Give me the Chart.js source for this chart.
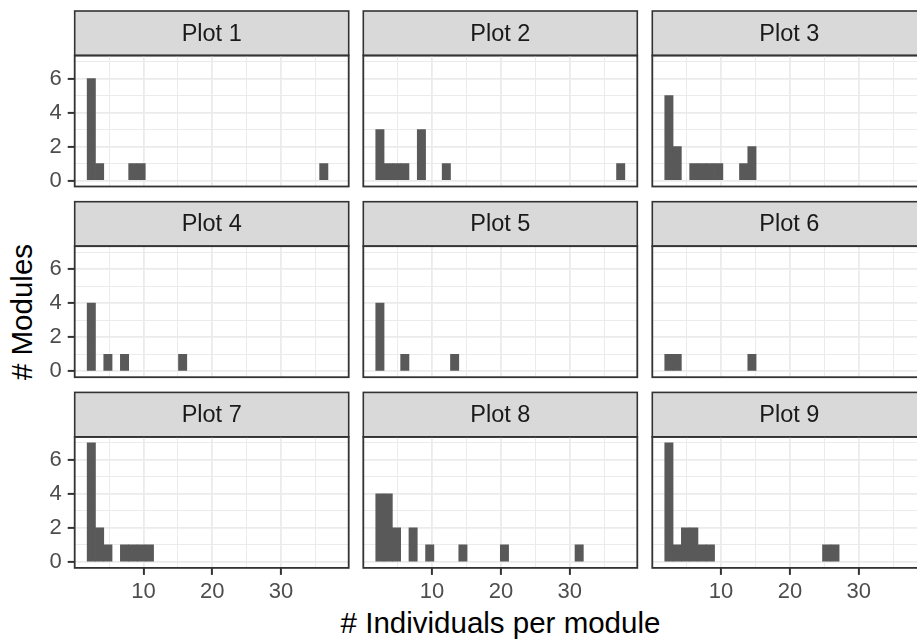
<!DOCTYPE html>
<html>
<head>
<meta charset="utf-8">
<script src="https://cdn.jsdelivr.net/npm/chart.js@4/dist/chart.umd.min.js"></script>
<style>
html,body{margin:0;padding:0;background:#ffffff;overflow:hidden;width:917px;height:641px;}
#wrap{position:relative;width:917px;height:641px;overflow:hidden;background:#fff;}
#wrap canvas{position:absolute;left:0;top:0;}
.axtitle{position:absolute;font-family:"Liberation Sans",Arial,sans-serif;color:#000;font-size:29.5px;line-height:1;white-space:nowrap;}
</style>
</head>
<body>
<div id="wrap">
  <div id="xtitle" class="axtitle" style="left:500.5px;top:608px;transform:translateX(-50%);"># Individuals per module</div>
  <div id="ytitle" class="axtitle" style="left:22px;top:311.8px;transform:translate(-50%,-50%) rotate(-90deg);"># Modules</div>
</div>
<script>
// ---------- data ----------
const plotNames = ['Plot 1','Plot 2','Plot 3','Plot 4','Plot 5','Plot 6','Plot 7','Plot 8','Plot 9'];
// histogram settings (30 bins spanning the data range 2..37)
const binMin = 2, binMax = 37, nBins = 30;
// counts per bin (30 bins each)
const plot1 = [6,1,0,0,0,1,1,0,0,0, 0,0,0,0,0,0,0,0,0,0, 0,0,0,0,0,0,0,0,1,0];
const plot2 = [3,1,1,1,0,3,0,0,1,0, 0,0,0,0,0,0,0,0,0,0, 0,0,0,0,0,0,0,0,0,1];
const plot3 = [5,2,0,1,1,1,1,0,0,1, 2,0,0,0,0,0,0,0,0,0, 0,0,0,0,0,0,0,0,0,0];
const plot4 = [4,0,1,0,1,0,0,0,0,0, 0,1,0,0,0,0,0,0,0,0, 0,0,0,0,0,0,0,0,0,0];
const plot5 = [4,0,0,1,0,0,0,0,0,1, 0,0,0,0,0,0,0,0,0,0, 0,0,0,0,0,0,0,0,0,0];
const plot6 = [1,1,0,0,0,0,0,0,0,0, 1,0,0,0,0,0,0,0,0,0, 0,0,0,0,0,0,0,0,0,0];
const plot7 = [7,2,1,0,1,1,1,1,0,0, 0,0,0,0,0,0,0,0,0,0, 0,0,0,0,0,0,0,0,0,0];
const plot8 = [4,4,2,0,2,0,1,0,0,0, 1,0,0,0,0,1,0,0,0,0, 0,0,0,0,1,0,0,0,0,0];
const plot9 = [7,1,2,2,1,1,0,0,0,0, 0,0,0,0,0,0,0,0,0,1, 1,0,0,0,0,0,0,0,0,0];
const allCounts = [plot1,plot2,plot3,plot4,plot5,plot6,plot7,plot8,plot9];
const xMajor = [10,20,30];
const xMinor = [5,15,25,35];
const yMajor = [0,2,4,6];
const yMinor = [1,3,5,7];

// ---------- bins (ggplot2 style: width = range/(bins-1), boundary = width/2) ----------
const binWidth = (binMax - binMin) / (nBins - 1);
const binOrigin = binWidth/2 + Math.floor((binMin - binWidth/2) / binWidth) * binWidth;
const binCenters = Array.from({length: nBins}, (_, k) => binOrigin + binWidth * (k + 0.5));
const binEnd = binOrigin + binWidth * nBins;
const xExpand = (binEnd - binOrigin) * 0.05;
const xMin = binOrigin - xExpand, xMax = binEnd + xExpand;
const yMaxData = 7;
const yMin = -0.05 * yMaxData, yMax = yMaxData * 1.05;

// ---------- layout ----------
const CW = 960, CH = 641;
const panelLefts = [74.7, 363.3, 652.3];
const panelW = 274;
const stripTops = [11, 201.7, 392.4];
const stripH = 44.5;
const panelH = 131;
const FONT = '"Liberation Sans", Arial, Helvetica, sans-serif';

const stripPlugin = {
  id: 'strip',
  beforeDraw(chart, args, opts) {
    const {left, right, top} = chart.chartArea;
    const ctx = chart.ctx;
    ctx.save();
    ctx.fillStyle = '#D9D9D9';
    ctx.fillRect(left, top - stripH, right - left, stripH);
    ctx.strokeStyle = '#333333';
    ctx.lineWidth = 1.6;
    ctx.strokeRect(left, top - stripH, right - left, stripH);
    ctx.fillStyle = '#1A1A1A';
    ctx.font = '23.5px ' + FONT;
    ctx.textAlign = 'center';
    ctx.textBaseline = 'middle';
    ctx.fillText(opts.text, (left + right) / 2, top - stripH / 2 + 1);
    ctx.restore();
  },
  afterDatasetsDraw(chart) {
    const {left, right, top, bottom} = chart.chartArea;
    const ctx = chart.ctx;
    ctx.save();
    ctx.strokeStyle = '#333333';
    ctx.lineWidth = 1.8;
    ctx.strokeRect(left, top, right - left, bottom - top);
    ctx.restore();
  }
};

const wrap = document.getElementById('wrap');

allCounts.forEach((counts, idx) => {
  const col = idx % 3, row = Math.floor(idx / 3);
  const L = panelLefts[col];
  const T = stripTops[row] + stripH;
  const showY = col === 0, showX = row === 2;
  const yW = showY ? 60 : 0;
  const xH = showX ? 40 : 0;
  const canvas = document.createElement('canvas');
  canvas.width = CW; canvas.height = CH;
  canvas.style.width = CW + 'px'; canvas.style.height = CH + 'px';
  wrap.appendChild(canvas);

  new Chart(canvas, {
    type: 'bar',
    data: {
      datasets: [{
        data: binCenters.map((x, i) => ({x: x, y: counts[i] > 0 ? counts[i] : null})),
        backgroundColor: '#595959',
        borderWidth: 0,
        barPercentage: 1,
        categoryPercentage: 1
      }]
    },
    options: {
      responsive: false,
      animation: false,
      events: [],
      layout: {padding: {left: L - yW, top: T, right: CW - L - panelW, bottom: CH - T - panelH - xH}},
      plugins: {legend: {display: false}, tooltip: {enabled: false}, strip: {text: plotNames[idx]}},
      scales: {
        x: {
          type: 'linear', min: xMin, max: xMax, offset: false,
          afterBuildTicks: s => { s.ticks = xMinor.concat(xMajor).sort((a,b)=>a-b).map(v => ({value: v})); },
          afterFit: s => { s.height = xH; },
          border: {display: false},
          grid: {
            offset: false,
            color: '#EBEBEB',
            lineWidth: c => (c.tick && xMajor.includes(c.tick.value)) ? 1.8 : 1,
            drawTicks: showX, tickLength: 7, tickWidth: 2,
            tickColor: c => (c.tick && xMajor.includes(c.tick.value)) ? '#333333' : 'rgba(0,0,0,0)'
          },
          ticks: {
            display: showX, autoSkip: false, maxRotation: 0, padding: 4,
            color: '#4D4D4D', font: {family: FONT, size: 22},
            callback: v => xMajor.includes(v) ? String(v) : ''
          }
        },
        y: {
          type: 'linear', min: yMin, max: yMax,
          afterBuildTicks: s => { s.ticks = yMajor.concat(yMinor).sort((a,b)=>a-b).map(v => ({value: v})); },
          afterFit: s => { s.width = yW; },
          border: {display: false},
          grid: {
            color: '#EBEBEB',
            lineWidth: c => (c.tick && yMajor.includes(c.tick.value)) ? 1.8 : 1,
            drawTicks: showY, tickLength: 7, tickWidth: 2,
            tickColor: c => (c.tick && yMajor.includes(c.tick.value)) ? '#333333' : 'rgba(0,0,0,0)'
          },
          ticks: {
            display: showY, autoSkip: false, padding: 6,
            color: '#4D4D4D', font: {family: FONT, size: 22},
            callback: v => yMajor.includes(v) ? String(v) : ''
          }
        }
      }
    },
    plugins: [stripPlugin]
  });
});
</script>
</body>
</html>
